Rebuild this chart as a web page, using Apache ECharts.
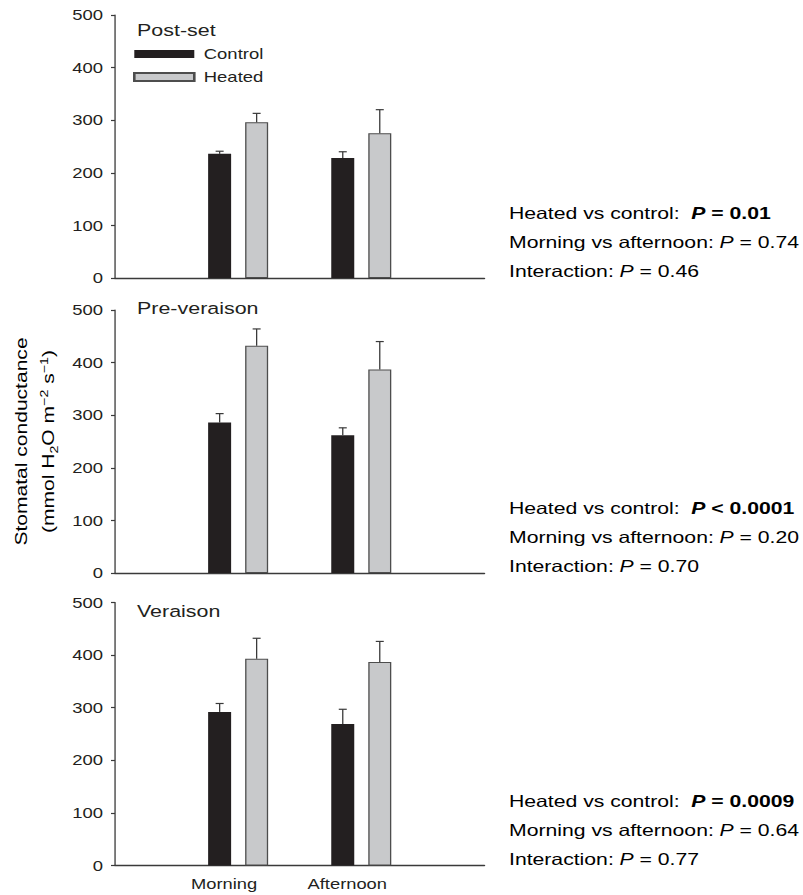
<!DOCTYPE html>
<html>
<head>
<meta charset="utf-8">
<title>Stomatal conductance</title>
<script src="https://cdn.jsdelivr.net/npm/echarts@6/dist/echarts.min.js"></script>
<style>
  html, body { margin: 0; padding: 0; background: #fff; overflow: hidden; }
  /* the original lettering is set wide, so the whole figure is drawn narrow and stretched */
  #chart { height: 895px; transform-origin: 0 0; }
</style>
</head>
<body>
<div id="chart"></div>
<script>
// categories on the x axis (padded with blank slots at both ends)
var timeOfDay = ['Morning', 'Afternoon'];
var panelNames = ['Post-set', 'Pre-veraison', 'Veraison'];
var yTicks = [0, 100, 200, 300, 400, 500];

// means and upper error (SE) for each panel
var postSetControl = [236, 228];
var postSetControlErr = [5, 12];
var postSetHeated = [296, 275];
var postSetHeatedErr = [17, 45];

var preVeraisonControl = [286, 262];
var preVeraisonControlErr = [17, 14];
var preVeraisonHeated = [432, 387];
var preVeraisonHeatedErr = [32, 53];

var veraisonControl = [292, 269];
var veraisonControlErr = [16, 28];
var veraisonHeated = [393, 387];
var veraisonHeatedErr = [39, 39];

// statistics printed beside each panel
var heatedVsControlP = ['= 0.01', '< 0.0001', '= 0.0009'];
var morningVsAfternoonP = ['0.74', '0.20', '0.64'];
var interactionP = ['0.46', '0.70', '0.77'];

var controls = [postSetControl, preVeraisonControl, veraisonControl];
var controlErrs = [postSetControlErr, preVeraisonControlErr, veraisonControlErr];
var heateds = [postSetHeated, preVeraisonHeated, veraisonHeated];
var heatedErrs = [postSetHeatedErr, preVeraisonHeatedErr, veraisonHeatedErr];

var FONT = '"Liberation Sans", Arial, Helvetica, sans-serif';
var INK = '#231f20';
var AXIS = '#3a3a3a';

// horizontal stretch of the page; every x size below is given in screen px and divided by S
var S = 1.3;
function sx(v) { return v / S; }

var dom = document.getElementById('chart');
dom.style.width = sx(803) + 'px';
dom.style.transform = 'scaleX(' + S + ')';

var gridLeft = 115, gridRight = 803 - 484, gridH = 263;
var gridTops = [15, 310, 602.5];
var barW = sx(23), barGapPx = sx(14);
var halfStep = (barW + barGapPx) / 2;

var chart = echarts.init(dom, null, { renderer: 'svg' });

function padded(arr) {
  return ['-'].concat(arr).concat(['-']);
}

function errData(means, errs) {
  return means.map(function (m, i) { return [i + 1, m, errs[i]]; });
}

function errorBars(offset) {
  return function (params, api) {
    var c = api.value(0), m = api.value(1), e = api.value(2);
    var base = api.coord([c, m]);
    var top = api.coord([c, m + e]);
    var x = base[0] + offset;
    var cap = sx(4);
    return {
      type: 'group',
      children: [
        { type: 'line', shape: { x1: x, y1: base[1], x2: x, y2: top[1] }, style: { stroke: AXIS, lineWidth: 1 } },
        { type: 'line', shape: { x1: x - cap, y1: top[1], x2: x + cap, y2: top[1] }, style: { stroke: AXIS, lineWidth: 1.2 } }
      ]
    };
  };
}

var grids = [], xAxes = [], yAxes = [], series = [], graphics = [];

panelNames.forEach(function (name, i) {
  var last = i === panelNames.length - 1;
  grids.push({ left: sx(gridLeft), right: sx(gridRight), top: gridTops[i], height: gridH });
  xAxes.push({
    type: 'category',
    gridIndex: i,
    data: [''].concat(timeOfDay).concat([' ']),
    boundaryGap: false,
    axisLine: { lineStyle: { color: AXIS, width: 1.3 } },
    axisTick: { show: false },
    axisLabel: {
      show: last,
      color: INK,
      fontFamily: FONT,
      fontSize: 14.1,
      margin: 11,
      padding: [0, sx(28), 0, 0]
    },
    splitLine: { show: false }
  });
  yAxes.push({
    type: 'value',
    gridIndex: i,
    min: yTicks[0],
    max: yTicks[yTicks.length - 1],
    interval: 100,
    axisLine: { show: true, lineStyle: { color: AXIS, width: 1 } },
    axisTick: { show: true, inside: false, length: sx(4), lineStyle: { color: AXIS, width: 1.2 } },
    axisLabel: { color: INK, fontFamily: FONT, fontSize: 14.2, margin: sx(12) },
    splitLine: { show: false }
  });

  series.push({
    name: 'Control',
    type: 'bar',
    xAxisIndex: i,
    yAxisIndex: i,
    barWidth: barW,
    barGap: (barGapPx / barW * 100).toFixed(0) + '%',
    data: padded(controls[i]),
    itemStyle: { color: INK },
    z: 2
  });
  series.push({
    name: 'Heated',
    type: 'bar',
    xAxisIndex: i,
    yAxisIndex: i,
    barWidth: barW,
    data: padded(heateds[i]),
    itemStyle: { color: '#c8c9cb', borderColor: '#4d4d4d', borderWidth: 1 },
    z: 2
  });
  series.push({
    type: 'custom',
    xAxisIndex: i,
    yAxisIndex: i,
    renderItem: errorBars(-halfStep),
    data: errData(controls[i], controlErrs[i]),
    encode: { x: 0, y: 1 },
    z: 3,
    silent: true
  });
  series.push({
    type: 'custom',
    xAxisIndex: i,
    yAxisIndex: i,
    renderItem: errorBars(halfStep),
    data: errData(heateds[i], heatedErrs[i]),
    encode: { x: 0, y: 1 },
    z: 3,
    silent: true
  });
});

// panel labels
var labelY = [30, 308, 611];
panelNames.forEach(function (name, i) {
  graphics.push({
    type: 'text',
    x: sx(137),
    y: labelY[i],
    style: { text: name, fill: INK, font: '16.5px ' + FONT, verticalAlign: 'middle' }
  });
});

// statistics beside each panel
var statFont = 16.3, statLine = 29;
var statRich = {
  n: { fontFamily: FONT, fontSize: statFont, color: INK, lineHeight: statLine },
  i: { fontFamily: FONT, fontSize: statFont, color: INK, fontStyle: 'italic', lineHeight: statLine },
  bi: { fontFamily: FONT, fontSize: statFont, color: INK, fontStyle: 'italic', fontWeight: 'bold', lineHeight: statLine },
  b: { fontFamily: FONT, fontSize: statFont, color: INK, fontWeight: 'bold', lineHeight: statLine }
};
panelNames.forEach(function (name, i) {
  var zeroY = gridTops[i] + gridH;
  graphics.push({
    type: 'text',
    x: sx(509),
    y: zeroY + 8,
    style: {
      text: '{n|Heated vs control:  }{bi|P}{b| ' + heatedVsControlP[i] + '}\n' +
            '{n|Morning vs afternoon: }{i|P}{n| = ' + morningVsAfternoonP[i] + '}\n' +
            '{n|Interaction: }{i|P}{n| = ' + interactionP[i] + '}',
      rich: statRich,
      verticalAlign: 'bottom'
    }
  });
});

// y axis title, centred on the middle panel; scaled so it reads like the stretched lettering
graphics.push({
  type: 'text',
  x: sx(35),
  y: gridTops[1] + gridH / 2,
  rotation: Math.PI / 2,
  scaleX: S,
  scaleY: 1 / S,
  style: {
    text: '{n|Stomatal conductance}\n{n|(mmol H}{sub|2}{n|O m}{sup|\u22122}{n| s}{sup|\u22121}{n|)}',
    align: 'center',
    verticalAlign: 'middle',
    rich: {
      n: { fontFamily: FONT, fontSize: 16.2, color: INK, lineHeight: 27 },
      sub: { fontFamily: FONT, fontSize: 11, color: INK, lineHeight: 27, verticalAlign: 'bottom', padding: [0, 0, 2, 0] },
      sup: { fontFamily: FONT, fontSize: 11, color: INK, lineHeight: 27, verticalAlign: 'top', padding: [4, 0, 0, 0] }
    }
  }
});

var option = {
  backgroundColor: '#fff',
  animation: false,
  textStyle: { fontFamily: FONT },
  grid: grids,
  xAxis: xAxes,
  yAxis: yAxes,
  legend: {
    data: ['Control', 'Heated'],
    orient: 'vertical',
    left: sx(133),
    top: 47,
    padding: 0,
    itemWidth: sx(60),
    itemHeight: 8,
    itemGap: 9,
    icon: 'rect',
    selectedMode: false,
    textStyle: { color: INK, fontFamily: FONT, fontSize: 14.2, padding: [0, 0, 0, sx(3)] }
  },
  series: series,
  graphic: graphics
};

chart.setOption(option);
</script>
</body>
</html>
